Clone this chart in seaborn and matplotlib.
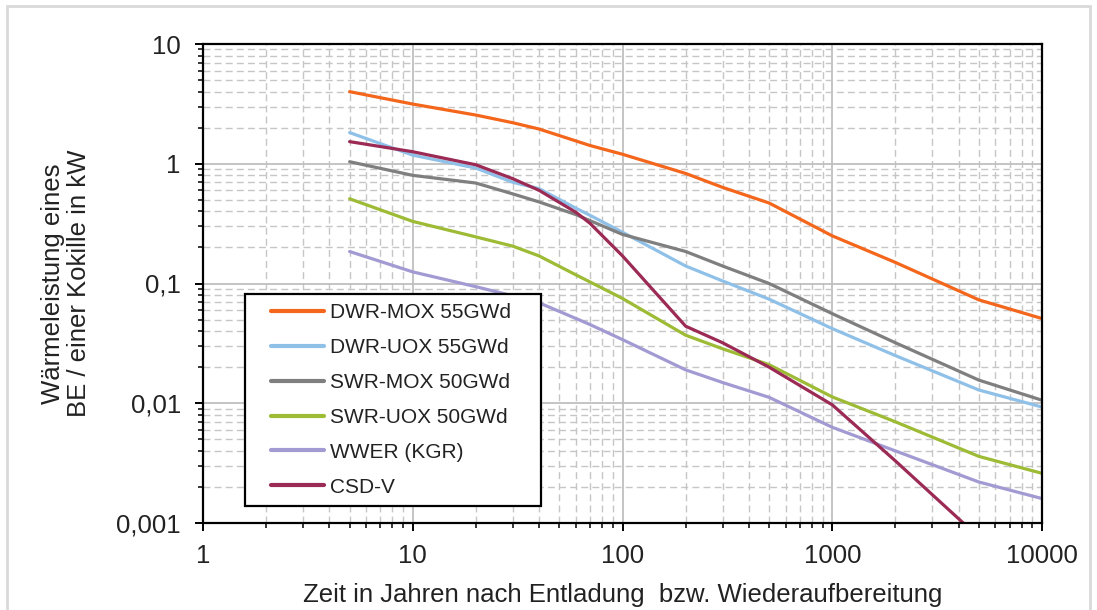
import numpy as np
import pandas as pd
import matplotlib
matplotlib.use("Agg")
import matplotlib.pyplot as plt
import seaborn as sns
from matplotlib.legend_handler import HandlerLine2D
from matplotlib.lines import Line2D
from matplotlib.patches import Rectangle
from matplotlib.ticker import LogLocator, NullFormatter, FixedLocator, FixedFormatter

# ---------------- data ----------------
years = [5, 10, 20, 30, 40, 60, 70, 100, 200, 300, 500, 1000, 2000, 5000, 10000]
dwr_mox = [4.0, 3.15, 2.55, 2.2, 1.95, 1.55, 1.42, 1.2, 0.83, 0.635, 0.47, 0.25, 0.15, 0.073, 0.051]
dwr_uox = [1.82, 1.18, 0.92, 0.70, 0.62, 0.425, 0.371, 0.268, 0.14, 0.105, 0.074, 0.042, 0.025, 0.0129, 0.0093]
swr_mox = [1.04, 0.80, 0.69, 0.56, 0.48, 0.376, 0.335, 0.257, 0.185, 0.14, 0.10, 0.056, 0.032, 0.0156, 0.0106]
swr_uox = [0.51, 0.33, 0.245, 0.205, 0.17, 0.118, 0.103, 0.075, 0.037, 0.0285, 0.021, 0.0113, 0.0070, 0.0036, 0.0026]
wwer = [0.185, 0.125, 0.094, 0.079, 0.069, 0.051, 0.0454, 0.034, 0.019, 0.0149, 0.0112, 0.0063, 0.0040, 0.0022, 0.0016]
csd_v = [1.53, 1.26, 0.98, 0.75, 0.60, 0.393, 0.318, 0.17, 0.044, 0.032, 0.020, 0.0097, 0.0033, 0.00076, np.nan]

series_names = ["DWR-MOX 55GWd", "DWR-UOX 55GWd", "SWR-MOX 50GWd",
                "SWR-UOX 50GWd", "WWER (KGR)", "CSD-V"]
series_values = [dwr_mox, dwr_uox, swr_mox, swr_uox, wwer, csd_v]
series_colors = ["#F4661B", "#8FC0E8", "#7F7F7F", "#9DBB34", "#A29AD2", "#9B2A55"]

x_ticks = [1, 10, 100, 1000, 10000]
x_ticklabels = ["1", "10", "100", "1000", "10000"]
y_ticks = [0.001, 0.01, 0.1, 1, 10]
y_ticklabels = ["0,001", "0,01", "0,1", "1", "10"]

x_label = "Zeit in Jahren nach Entladung  bzw. Wiederaufbereitung"
y_label = "Wärmeleistung eines\nBE / einer Kokille in kW"

# ---------------- build tidy frame ----------------
rows = []
for name, vals in zip(series_names, series_values):
    for yr, v in zip(years, vals):
        rows.append({"year": yr, "value": v, "series": name})
df = pd.DataFrame(rows)

# ---------------- style ----------------
sns.set_theme(style="ticks")
plt.rcParams["font.family"] = ["Liberation Sans", "DejaVu Sans"]

W, H = 1097, 610
fig = plt.figure(figsize=(W / 100, H / 100), dpi=100)
fig.patch.set_facecolor("white")
ax = fig.add_axes([203 / W, 1 - 523 / H, (1042 - 203) / W, (523 - 44) / H])

sns.lineplot(data=df, x="year", y="value", hue="series", hue_order=series_names,
             palette=dict(zip(series_names, series_colors)), linewidth=2.3,
             estimator=None, sort=False, ax=ax)

ax.set_xscale("log")
ax.set_yscale("log")
ax.set_xlim(1, 10000)
ax.set_ylim(0.001, 10)

ax.xaxis.set_major_locator(FixedLocator(x_ticks))
ax.xaxis.set_major_formatter(FixedFormatter(x_ticklabels))
ax.yaxis.set_major_locator(FixedLocator(y_ticks))
ax.yaxis.set_major_formatter(FixedFormatter(y_ticklabels))
ax.xaxis.set_minor_locator(LogLocator(base=10, subs=np.arange(2, 10), numticks=20))
ax.yaxis.set_minor_locator(LogLocator(base=10, subs=np.arange(2, 10), numticks=20))
ax.xaxis.set_minor_formatter(NullFormatter())
ax.yaxis.set_minor_formatter(NullFormatter())

ax.grid(which="major", color="#BFBFBF", linestyle="-", linewidth=1.3)
ax.grid(which="minor", color="#C6C6C6", linestyle=(0, (5, 3)), linewidth=1.0)
ax.set_axisbelow(True)

for s in ax.spines.values():
    s.set_color("black")
    s.set_linewidth(1.6)
    s.set_visible(True)

ax.tick_params(which="major", direction="out", length=6, width=1.4, color="black",
               labelsize=18.5, labelcolor="#222222")
ax.tick_params(axis="y", which="major", pad=10)
ax.tick_params(axis="x", which="major", pad=9)
ax.tick_params(which="minor", direction="out", length=3.5, width=1.1, color="black")

ax.set_xlabel(x_label, fontsize=18.5, color="#222222")
ax.set_ylabel(y_label, fontsize=18.5, color="#222222", linespacing=1.15)
ax.xaxis.set_label_coords(0.5, -0.125)
ax.yaxis.set_label_coords(-0.133, 0.5)

# ---------------- legend ----------------
old = ax.get_legend()
handles = list(old.legend_handles)
labels = [t.get_text() for t in old.get_texts()]
old.remove()
for h, c in zip(handles, series_colors):
    h.set_color(c)
    h.set_linewidth(3.0)

SHIFT = 12  # points of extra left padding before each legend line


class ShiftedLine(HandlerLine2D):
    def create_artists(self, legend, orig_handle, xdescent, ydescent, width,
                       height, fontsize, trans):
        return super().create_artists(legend, orig_handle, xdescent - SHIFT, ydescent,
                                      width - SHIFT, height, fontsize, trans)


leg = ax.legend(handles, labels, loc="lower left",
                bbox_to_anchor=(0.0501, 0.0355, 0.3528, 0.4), mode="expand",
                borderaxespad=0, fontsize=15, handlelength=3.33, handletextpad=0.3,
                labelspacing=0.76, borderpad=0.45, frameon=True, fancybox=False,
                handler_map={Line2D: ShiftedLine()})
fr = leg.get_frame()
fr.set_edgecolor("black")
fr.set_linewidth(1.6)
fr.set_facecolor("white")
fr.set_alpha(1)
for t in leg.get_texts():
    t.set_color("#222222")

# ---------------- outer light frame ----------------
fig.add_artist(Rectangle((7 / W, -0.02), (1090 - 7) / W, 1.02 - 6 / H,
                         transform=fig.transFigure, fill=False,
                         edgecolor="#D9D9D9", linewidth=2))

fig.savefig("out.png", dpi=100, facecolor="white")
